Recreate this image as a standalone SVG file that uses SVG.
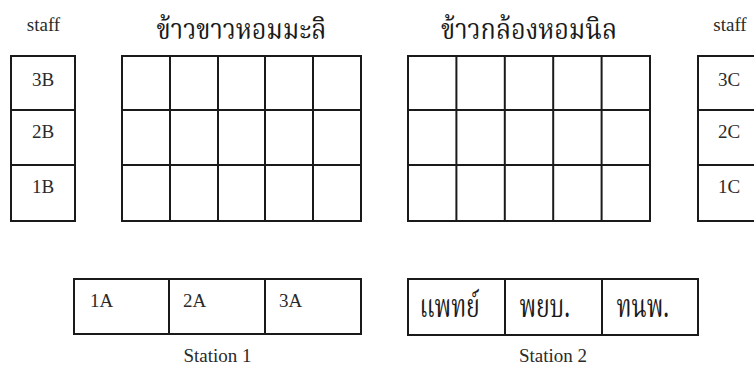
<svg xmlns="http://www.w3.org/2000/svg" width="754" height="365" viewBox="0 0 754 365">
<style>
.bx{fill:none;stroke:#1a1a1a;stroke-width:2}
.ln{stroke:#1a1a1a;stroke-width:2}
.t{font-family:"Liberation Serif","Times New Roman",serif;font-size:19px;fill:#2a2a2a}
.c{text-anchor:middle}
.th{font-family:"Noto Serif Thai","Noto Sans Thai","Garuda","Loma","Liberation Serif",serif;fill:#1a1a1a}
.title{font-size:28px;text-anchor:middle}
.st{font-size:32px}
</style>
<rect width="754" height="365" fill="#ffffff"/>
<g id="staffB">
<text class="t c" x="43.5" y="31">staff</text>
<rect class="bx" x="11" y="56" width="64" height="165"/>
<line class="ln" x1="11" y1="110" x2="75" y2="110"/>
<line class="ln" x1="11" y1="165" x2="75" y2="165"/>
<text class="t c" x="43" y="86">3B</text>
<text class="t c" x="43" y="138">2B</text>
<text class="t c" x="43" y="193">1B</text>
</g>
<g id="grid1">
<text class="th title" transform="translate(241.5,39) scale(0.9,1)">ข้าวขาวหอมมะลิ</text>
<rect class="bx" x="122" y="56" width="239" height="165"/>
<line class="ln" x1="170" y1="56" x2="170" y2="221"/>
<line class="ln" x1="218" y1="56" x2="218" y2="221"/>
<line class="ln" x1="265" y1="56" x2="265" y2="221"/>
<line class="ln" x1="313" y1="56" x2="313" y2="221"/>
<line class="ln" x1="122" y1="110" x2="361" y2="110"/>
<line class="ln" x1="122" y1="165" x2="361" y2="165"/>
</g>
<g id="grid2">
<text class="th title" transform="translate(529,39) scale(0.9,1)">ข้าวกล้องหอมนิล</text>
<rect class="bx" x="408" y="56" width="242" height="165"/>
<line class="ln" x1="456.4" y1="56" x2="456.4" y2="221"/>
<line class="ln" x1="504.8" y1="56" x2="504.8" y2="221"/>
<line class="ln" x1="553.2" y1="56" x2="553.2" y2="221"/>
<line class="ln" x1="601.6" y1="56" x2="601.6" y2="221"/>
<line class="ln" x1="408" y1="110" x2="650" y2="110"/>
<line class="ln" x1="408" y1="165" x2="650" y2="165"/>
</g>
<g id="staffC">
<text class="t c" x="730" y="31">staff</text>
<rect class="bx" x="698" y="56" width="64" height="165"/>
<line class="ln" x1="698" y1="110" x2="762" y2="110"/>
<line class="ln" x1="698" y1="165" x2="762" y2="165"/>
<text class="t c" x="729" y="86">3C</text>
<text class="t c" x="729" y="138">2C</text>
<text class="t c" x="729" y="193">1C</text>
</g>
<g id="station1">
<rect class="bx" x="74" y="279" width="287" height="55"/>
<line class="ln" x1="169" y1="279" x2="169" y2="334"/>
<line class="ln" x1="265" y1="279" x2="265" y2="334"/>
<text class="t" x="90" y="307">1A</text>
<text class="t" x="183" y="307">2A</text>
<text class="t" x="279" y="307">3A</text>
<text class="t c" x="217.5" y="362">Station 1</text>
</g>
<g id="station2">
<rect class="bx" x="408" y="279" width="290" height="56"/>
<line class="ln" x1="505" y1="279" x2="505" y2="335"/>
<line class="ln" x1="602" y1="279" x2="602" y2="335"/>
<text class="th st" transform="translate(419.5,317) scale(0.72,1)">แพทย์</text>
<text class="th st" transform="translate(519.5,317) scale(0.72,1)">พยบ.</text>
<text class="th st" transform="translate(616.5,317) scale(0.72,1)">ทนพ.</text>
<text class="t c" x="553" y="362">Station 2</text>
</g>
<g id="connectors"/>
</svg>
